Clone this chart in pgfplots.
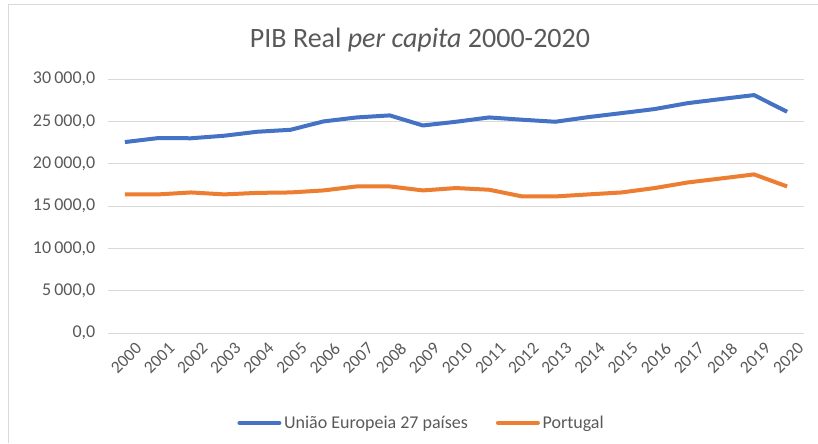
\documentclass[border=0pt]{standalone}
\usepackage{pgfplots}
\pgfplotsset{compat=1.18}
\usepackage{fontspec}
\setmainfont{Carlito}
\definecolor{euBlue}{HTML}{4472C4}
\definecolor{ptOrange}{HTML}{ED7D31}
\definecolor{gridGray}{HTML}{D9D9D9}
\definecolor{txtGray}{HTML}{595959}
\begin{document}
\begin{tikzpicture}
\useasboundingbox (0pt,0pt) rectangle (613.5pt,332.25pt);
\draw[gridGray, line width=0.75pt] (6pt,0pt) -- (6pt,328.5pt) -- (613.5pt,328.5pt);
\node[txtGray, font=\fontsize{21}{25}\selectfont] at (315pt,302.25pt) {PIB Real \textit{per capita} 2000-2020};
\begin{axis}[
  at={(81pt,82.5pt)}, anchor=south west,
  scale only axis, width=522pt, height=190.5pt,
  xmin=1999.49, xmax=2020.51,
  ymin=0, ymax=30000,
  axis line style={draw=none},
  major tick length=0pt,
  scaled y ticks=false,
  ymajorgrids, grid style={gridGray, line width=0.75pt},
  xtick={2000,2001,...,2020},
  xticklabel={\pgfmathprintnumber[1000 sep={}]{\tick}},
  /pgf/number format/assume math mode=true,
  ytick={0,5000,10000,15000,20000,25000,30000},
  yticklabels={{0,0},{5\hspace{0.17em}000,0},{10\hspace{0.17em}000,0},{15\hspace{0.17em}000,0},{20\hspace{0.17em}000,0},{25\hspace{0.17em}000,0},{30\hspace{0.17em}000,0}},
  tick label style={txtGray, font=\fontsize{13.5}{16}\selectfont},
  yticklabel style={anchor=east, xshift=-6pt},
  xticklabel style={rotate=45, anchor=east, xshift=4pt, yshift=-14pt, font=\fontsize{13}{15}\selectfont},
  legend columns=2,
  legend style={at={(0.451,-0.354)}, anchor=center, draw=none, fill=none,
    font=\fontsize{13.5}{16}\selectfont, text=txtGray,
    /tikz/every even column/.append style={column sep=19pt}},
  legend cell align=left,
  legend image code/.code={\draw[#1, line cap=round] (0pt,0pt) -- (30pt,0pt);},
]
\addplot[euBlue, line width=3pt, line join=round] coordinates {
(2000,22550) (2001,23020) (2002,23000) (2003,23300) (2004,23770) (2005,24000)
(2006,24990) (2007,25460) (2008,25700) (2009,24510) (2010,24950) (2011,25460)
(2012,25190) (2013,24950) (2014,25500) (2015,25970) (2016,26450) (2017,27150)
(2018,27630) (2019,28100) (2020,26130)};
\addlegendentry{União Europeia 27 países}
\addplot[ptOrange, line width=3pt, line join=round] coordinates {
(2000,16370) (2001,16370) (2002,16600) (2003,16370) (2004,16550) (2005,16600)
(2006,16840) (2007,17310) (2008,17310) (2009,16840) (2010,17120) (2011,16920)
(2012,16130) (2013,16130) (2014,16370) (2015,16600) (2016,17120) (2017,17780)
(2018,18250) (2019,18730) (2020,17310)};
\addlegendentry{Portugal}
\end{axis}
\end{tikzpicture}
\end{document}
